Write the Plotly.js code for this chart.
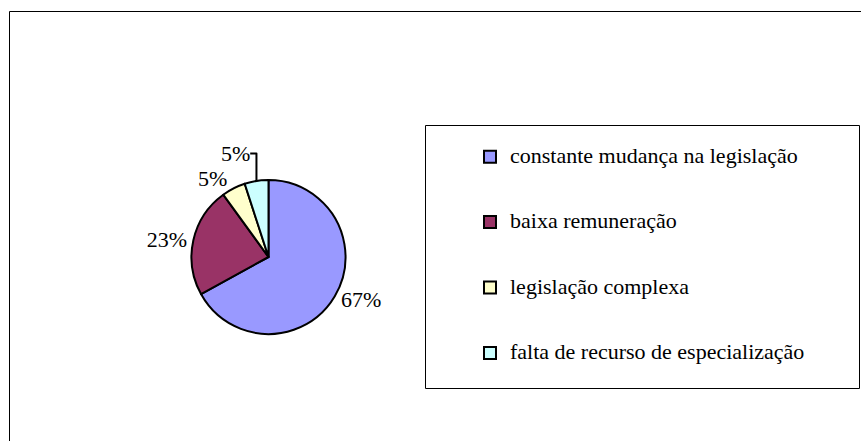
<!DOCTYPE html>
<html>
<head>
<meta charset="utf-8">
<script src="https://cdn.plot.ly/plotly-3.0.1.min.js"></script>
<style>
  html, body { margin: 0; padding: 0; background: #ffffff; }
  #chart { width: 861px; height: 441px; }
</style>
</head>
<body>
<div id="chart"></div>
<script>
// ---- data ----
var categories = [
  'constante mudança na legislação',
  'baixa remuneração',
  'legislação complexa',
  'falta de recurso de especialização'
];
var percentValues = [67, 23, 5, 5];
var sliceColors = ['#9999FF', '#993366', '#FFFFCC', '#CCFFFF'];

var W = 861, H = 441;
function px(x) { return x / W; }
function py(y) { return 1 - y / H; }
var SERIF = '"Liberation Serif", "Times New Roman", Times, "DejaVu Serif", serif';

// legend entries: padded with blank lines so the rows are spaced as in the reference
var legendLabels = categories.map(function (c) {
  return '&nbsp;<br><span style="font-size:22px">' + c + '</span><br>&nbsp;';
});

var trace = {
  type: 'pie',
  labels: legendLabels,
  values: percentValues,
  sort: false,
  direction: 'clockwise',
  rotation: 0,
  marker: { colors: sliceColors, line: { color: '#000000', width: 2 } },
  textposition: 'outside',
  texttemplate: '%{percent:.0%}',
  textfont: { family: SERIF, size: 22, color: '#000000' },
  outsidetextfont: { family: SERIF, size: 22, color: '#000000' },
  hoverinfo: 'none',
  automargin: false,
  domain: { x: [px(191.5), px(345.5)], y: [py(334), py(180)] }
};

var layout = {
  width: W,
  height: H,
  margin: { l: 0, r: 0, t: 0, b: 0 },
  paper_bgcolor: '#ffffff',
  plot_bgcolor: '#ffffff',
  font: { family: SERIF, color: '#000000' },
  showlegend: true,
  legend: {
    x: px(470), xanchor: 'left',
    y: py(119), yanchor: 'top',
    bgcolor: 'rgba(0,0,0,0)',
    borderwidth: 0,
    font: { family: SERIF, size: 16, color: '#000000' },
    traceorder: 'normal'
  },
  shapes: [
    { type: 'rect', xref: 'paper', yref: 'paper', x0: px(9.5), x1: px(900), y0: py(11.5), y1: py(500),
      line: { color: '#000000', width: 1 }, fillcolor: 'rgba(0,0,0,0)', layer: 'below' },
    { type: 'rect', xref: 'paper', yref: 'paper', x0: px(425.5), x1: px(859.5), y0: py(125.5), y1: py(388.5),
      line: { color: '#000000', width: 1 }, fillcolor: 'rgba(0,0,0,0)', layer: 'below' }
  ]
};

Plotly.newPlot('chart', [trace], layout, { displayModeBar: false, staticPlot: true });
</script>
</body>
</html>
